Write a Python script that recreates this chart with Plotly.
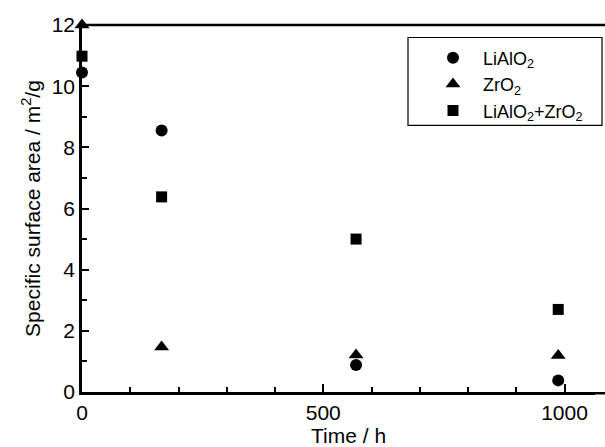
import plotly.graph_objects as go

time_h = [0, 165, 568, 987]
lialo2 = [10.45, 8.55, 0.88, 0.38]
zro2 = [12.0, 1.47, 1.21, 1.19]
mixed = [10.98, 6.38, 5.0, 2.70]

series_names = ["LiAlO<sub>2</sub>", "ZrO<sub>2</sub>", "LiAlO<sub>2</sub>+ZrO<sub>2</sub>"]
x_ticks = [0, 500, 1000]
y_ticks = [0, 2, 4, 6, 8, 10, 12]

FONT = "Liberation Sans, Arial, sans-serif"

fig = go.Figure()
fig.add_trace(go.Scatter(x=time_h, y=lialo2, mode="markers", name=series_names[0],
                         marker=dict(symbol="circle", size=12, color="black"), cliponaxis=False))
fig.add_trace(go.Scatter(x=time_h, y=zro2, mode="markers", name=series_names[1],
                         marker=dict(symbol="triangle-up", size=13, color="black"), cliponaxis=False))
fig.add_trace(go.Scatter(x=time_h, y=mixed, mode="markers", name=series_names[2],
                         marker=dict(symbol="square", size=11, color="black"), cliponaxis=False))

W, H = 605, 447
L, R, T, B = 82, 10, 24.5, 55
pw = W - L - R
ph = H - T - B

def px2paper_x(px):
    return (px - L) / pw

def px2paper_y(py):
    return (H - B - py) / ph

# legend frame
fig.add_shape(type="rect", xref="paper", yref="paper",
              x0=px2paper_x(408), x1=px2paper_x(602), y0=px2paper_y(125), y1=px2paper_y(37),
              line=dict(color="black", width=1.2), fillcolor="rgba(0,0,0,0)", layer="above")
# top frame line (full width)
fig.add_shape(type="line", xref="paper", yref="paper", x0=0, x1=px2paper_x(606), y0=1, y1=1,
              line=dict(color="black", width=2.5), layer="above")
# bottom axis continuation to the edge
fig.add_shape(type="line", xref="paper", yref="paper", x0=0.98, x1=px2paper_x(606),
              y0=px2paper_y(393.25), y1=px2paper_y(393.25),
              line=dict(color="black", width=2.5), layer="above")

# x-axis title as annotation centred where the reference has it
fig.add_annotation(text="Time / h", xref="paper", yref="paper",
                   x=px2paper_x(348), y=px2paper_y(436), xanchor="center", yanchor="middle",
                   showarrow=False, font=dict(family=FONT, size=21, color="black"))

fig.update_layout(
    template="none",
    width=W, height=H,
    margin=dict(l=L, r=R, t=T, b=B),
    paper_bgcolor="white", plot_bgcolor="white",
    font=dict(family=FONT, color="black", size=21),
    showlegend=True,
    legend=dict(x=px2paper_x(423), y=px2paper_y(39), xanchor="left", yanchor="top",
                bgcolor="rgba(0,0,0,0)", borderwidth=0, itemwidth=50,
                font=dict(family=FONT, size=18, color="black"), tracegroupgap=0),
    xaxis=dict(range=[0, (W - R - L) / 0.4825],
               tickvals=x_ticks, ticks="inside", ticklen=8, tickwidth=2, tickcolor="black",
               showline=True, linewidth=2.5, linecolor="black", mirror=False,
               showgrid=False, zeroline=False,
               minor=dict(dtick=100, ticks="inside", ticklen=5, tickwidth=2, tickcolor="black", showgrid=False),
               tickfont=dict(size=21)),
    yaxis=dict(range=[0, 12], tickvals=y_ticks, ticks="inside", ticklen=7, tickwidth=2, tickcolor="black",
               showline=True, linewidth=2.5, linecolor="black", mirror=False,
               showgrid=False, zeroline=False,
               minor=dict(dtick=1, ticks="inside", ticklen=5, tickwidth=2, tickcolor="black", showgrid=False),
               tickfont=dict(size=21),
               title=dict(text="Specific surface area / m<sup>2</sup>/g", font=dict(size=21), standoff=6)),
)

fig.write_html("out.html")
